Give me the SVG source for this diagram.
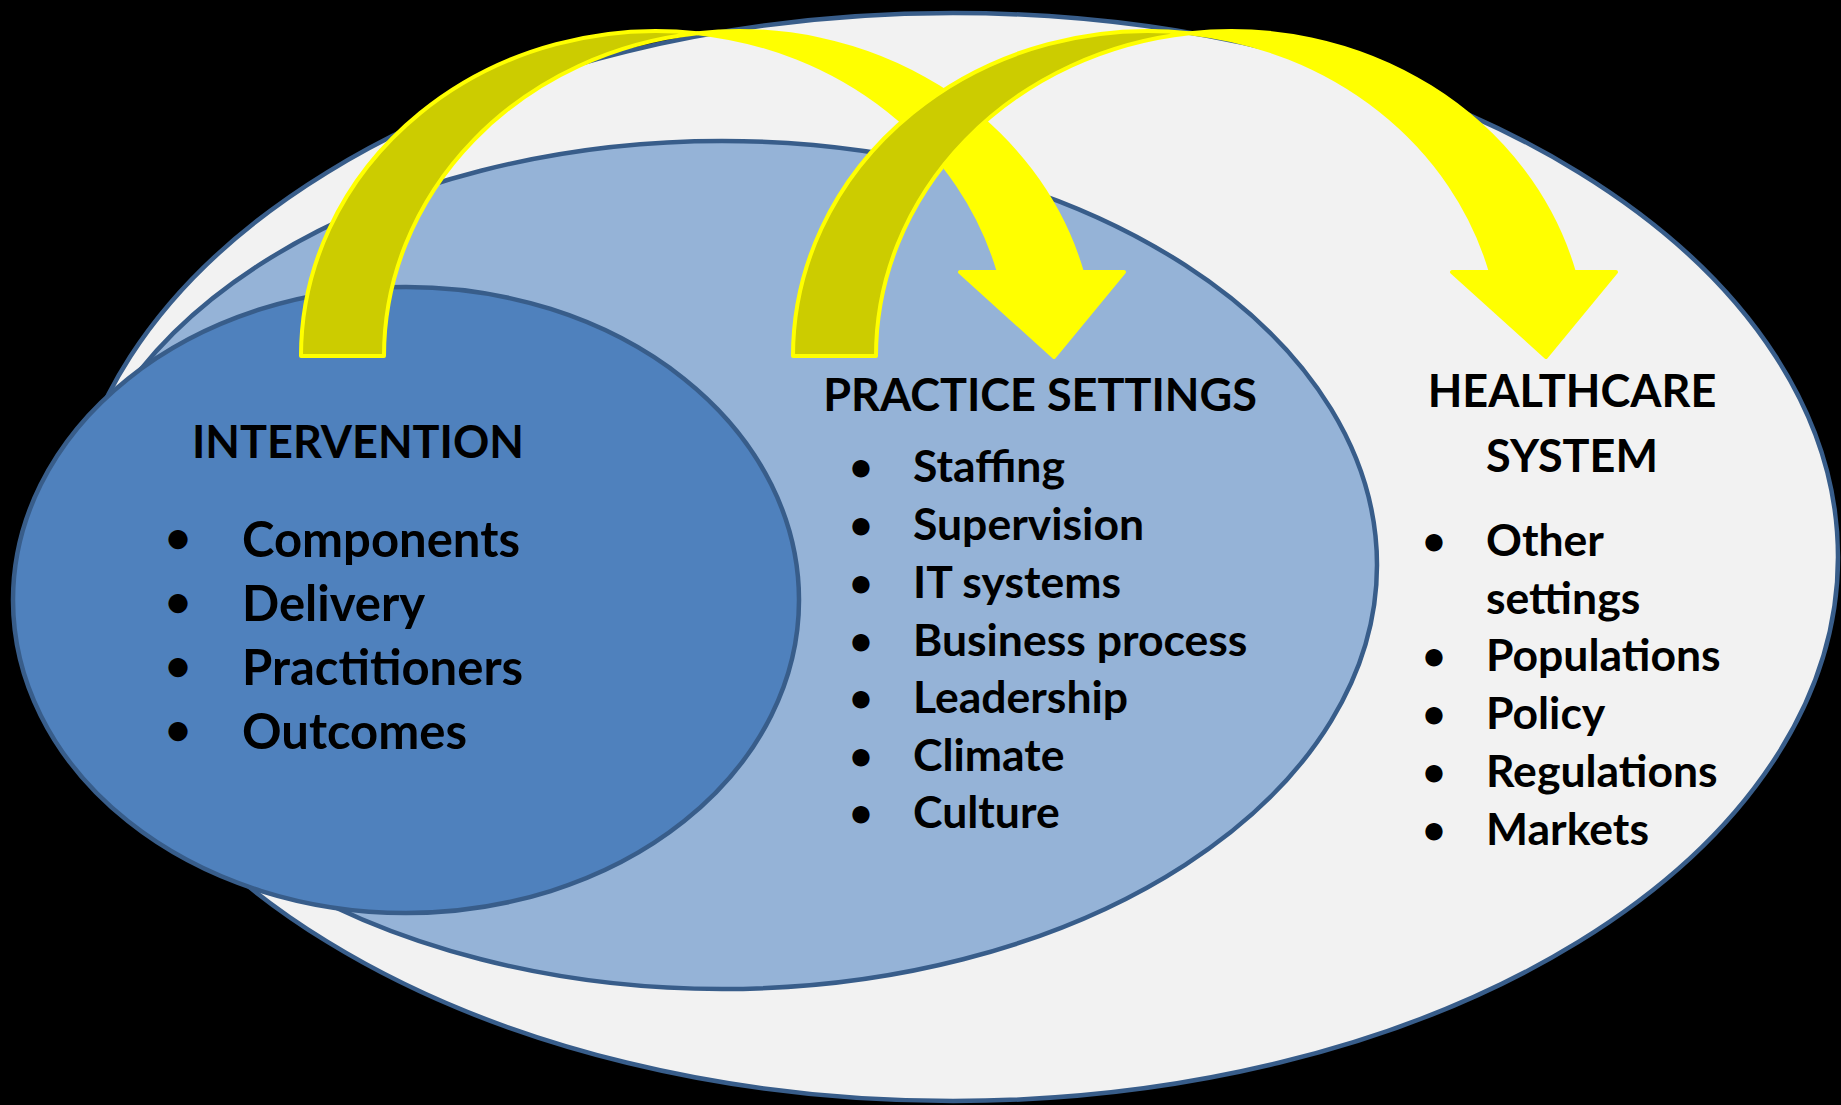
<svg xmlns="http://www.w3.org/2000/svg" width="1841" height="1105" viewBox="0 0 1841 1105">
<style>
.ell{stroke:#385D8A;stroke-width:4.5}
.t{font-family:Lato,"Open Sans","Liberation Sans",sans-serif;font-weight:700;fill:#000}
.h{font-size:45px;text-anchor:middle}
.l1{font-size:49px}
.l2{font-size:44.5px}
.b1{font-size:44px;text-anchor:middle}
.b2{font-size:39.5px;text-anchor:middle}
.back{fill:#CCCC00;stroke:#FFFF00;stroke-width:4;stroke-linejoin:round}
.front{fill:#FFFF00;stroke:#FFFF00;stroke-width:4;stroke-linejoin:round}
</style>
<defs>
<g id="curvedArrow">
<path class="back" d="M301,356 A355,325 0 0 1 697.5,33.2 A355,325 0 0 0 384,356 Z"/>
<path class="front" d="M697.5,33.2 A355,325 0 0 1 1081.9,272 L1124,272 L1054,357 L960,272 L998.9,272 A355,325 0 0 0 697.5,33.2 Z"/>
</g>
</defs>
<rect width="1841" height="1105" fill="#000"/>
<g id="healthcare-system">
<ellipse class="ell" cx="953" cy="557" rx="885" ry="544" fill="#F2F2F2"/>
</g>
<g id="practice-settings">
<ellipse class="ell" cx="722" cy="565" rx="655" ry="424" fill="#95B3D7"/>
</g>
<g id="intervention">
<ellipse class="ell" cx="406" cy="600" rx="393" ry="313" fill="#4F81BD"/>
</g>
<g id="connectors">
<use href="#curvedArrow"/>
<use href="#curvedArrow" transform="translate(492,0)"/>
</g>
<g id="intervention-text" class="t">
<text class="h" x="358" y="458">INTERVENTION</text>
<g class="l1">
<text class="b1" x="178" y="553">•</text><text x="242" y="557">Components</text>
<text class="b1" x="178" y="617">•</text><text x="242" y="621">Delivery</text>
<text class="b1" x="178" y="681">•</text><text x="242" y="685">Practitioners</text>
<text class="b1" x="178" y="745">•</text><text x="242" y="749">Outcomes</text>
</g>
</g>
<g id="practice-settings-text" class="t">
<text class="h" x="1040" y="411">PRACTICE SETTINGS</text>
<g class="l2">
<text class="b2" x="861" y="481">•</text><text x="913" y="482">Staffing</text>
<text class="b2" x="861" y="539">•</text><text x="913" y="540">Supervision</text>
<text class="b2" x="861" y="597">•</text><text x="913" y="598">IT systems</text>
<text class="b2" x="861" y="655">•</text><text x="913" y="656">Business process</text>
<text class="b2" x="861" y="712">•</text><text x="913" y="713">Leadership</text>
<text class="b2" x="861" y="770">•</text><text x="913" y="771">Climate</text>
<text class="b2" x="861" y="827">•</text><text x="913" y="828">Culture</text>
</g>
</g>
<g id="healthcare-system-text" class="t">
<text class="h" x="1572" y="407">HEALTHCARE</text>
<text class="h" x="1572" y="472">SYSTEM</text>
<g class="l2">
<text class="b2" x="1434" y="555">•</text><text x="1486" y="556">Other</text>
<text x="1486" y="614">settings</text>
<text class="b2" x="1434" y="670">•</text><text x="1486" y="671">Populations</text>
<text class="b2" x="1434" y="728">•</text><text x="1486" y="729">Policy</text>
<text class="b2" x="1434" y="786">•</text><text x="1486" y="787">Regulations</text>
<text class="b2" x="1434" y="844">•</text><text x="1486" y="845">Markets</text>
</g>
</g>
</svg>
